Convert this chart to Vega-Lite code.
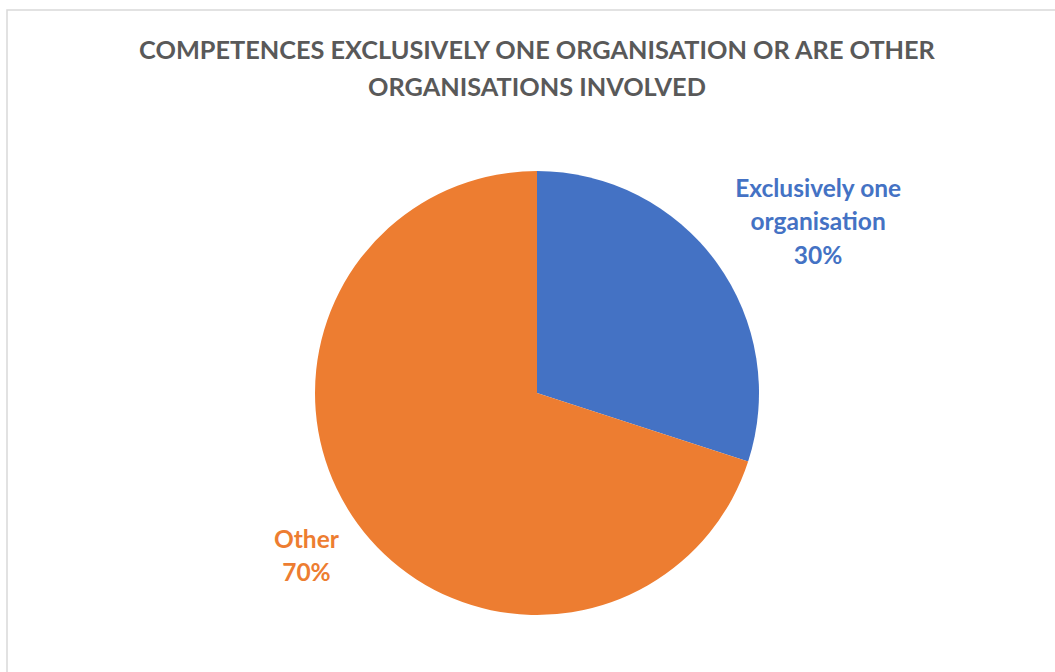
{
  "$schema": "https://vega.github.io/schema/vega-lite/v6.json",
  "width": 1060,
  "height": 766,
  "autosize": {"type": "none"},
  "padding": {"left": 7, "top": 10, "right": 0, "bottom": 0},
  "background": "white",
  "view": {"stroke": "#d9d9d9", "strokeWidth": 1.5, "fill": "white"},
  "config": {"view": {"stroke": "#d9d9d9", "strokeWidth": 1.5}},
  "title": {
    "text": ["COMPETENCES EXCLUSIVELY ONE ORGANISATION OR ARE OTHER", "ORGANISATIONS INVOLVED"],
    "anchor": "middle",
    "frame": "group",
    "orient": "top",
    "offset": -91,
    "font": "Lato",
    "fontSize": 25.3,
    "fontWeight": "bold",
    "color": "#595959",
    "lineHeight": 37
  },
  "data": {
    "values": [
      {"category": "Exclusively one organisation", "label": "Exclusively one\norganisation", "value": 30},
      {"category": "Other", "label": "Other", "value": 70}
    ]
  },
  "transform": [
    {"stack": "value", "groupby": [], "sort": [{"field": "category", "order": "ascending"}], "as": ["v0", "v1"]},
    {"calculate": "(datum.v0 + datum.v1) / 2", "as": "mid"},
    {"calculate": "datum.label + '\\n' + datum.value + '%'", "as": "text"}
  ],
  "layer": [
    {
      "mark": {"type": "arc", "outerRadius": 222},
      "encoding": {
        "theta": {"field": "v0", "type": "quantitative", "stack": null, "scale": {"domain": [0, 100]}},
        "theta2": {"field": "v1"},
        "color": {
          "field": "category",
          "type": "nominal",
          "scale": {"domain": ["Exclusively one organisation", "Other"], "range": ["#4472C4", "#ED7D31"]},
          "legend": null
        }
      }
    },
    {
      "transform": [{"filter": "datum.category === 'Exclusively one organisation'"}],
      "mark": {"type": "text", "radius": 324, "dx": 19, "dy": -13, "font": "Lato", "fontSize": 24.5, "fontWeight": "bold", "lineHeight": 33.5, "align": "center", "baseline": "middle", "lineBreak": "\n", "color": "#4472C4"},
      "encoding": {
        "theta": {"field": "mid", "type": "quantitative", "stack": null},
        "text": {"field": "text"}
      }
    },
    {
      "transform": [{"filter": "datum.category === 'Other'"}],
      "mark": {"type": "text", "radius": 285, "dy": -20, "font": "Lato", "fontSize": 24.5, "fontWeight": "bold", "lineHeight": 33, "align": "center", "baseline": "middle", "lineBreak": "\n", "color": "#ED7D31"},
      "encoding": {
        "theta": {"field": "mid", "type": "quantitative", "stack": null},
        "text": {"field": "text"}
      }
    }
  ]
}
